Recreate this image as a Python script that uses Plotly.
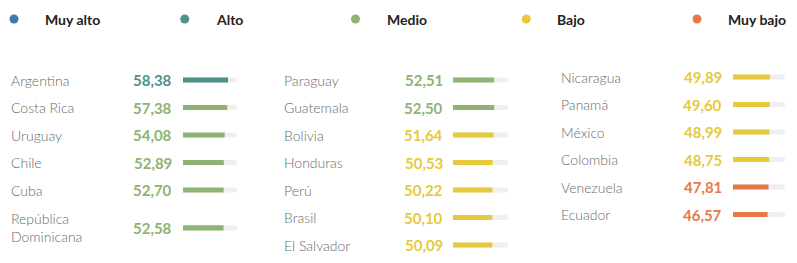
import plotly.graph_objects as go

# ---- data ----
levels = ["Muy alto", "Alto", "Medio", "Bajo", "Muy bajo"]
level_colors = ["#3b78b1", "#4e928b", "#8db472", "#e6c93c", "#e8784a"]

col1_names = ["Argentina", "Costa Rica", "Uruguay", "Chile", "Cuba", "República<br>Dominicana"]
col1_values = [58.38, 57.38, 54.08, 52.89, 52.70, 52.58]
col1_levels = ["Alto", "Medio", "Medio", "Medio", "Medio", "Medio"]

col2_names = ["Paraguay", "Guatemala", "Bolivia", "Honduras", "Perú", "Brasil", "El Salvador"]
col2_values = [52.51, 52.50, 51.64, 50.53, 50.22, 50.10, 50.09]
col2_levels = ["Medio", "Medio", "Bajo", "Bajo", "Bajo", "Bajo", "Bajo"]

col3_names = ["Nicaragua", "Panamá", "México", "Colombia", "Venezuela", "Ecuador"]
col3_values = [49.89, 49.60, 48.99, 48.75, 47.81, 46.57]
col3_levels = ["Bajo", "Bajo", "Bajo", "Bajo", "Muy bajo", "Muy bajo"]

scale_max = 70

# ---- layout constants ----
W, H = 797, 263
row_px = 27.5
cmap = dict(zip(levels, level_colors))

columns = [
    dict(names=col1_names, values=col1_values, lv=col1_levels,
         name_x=9, val_x=174, bar0=183, bar1=237, first_row=80),
    dict(names=col2_names, values=col2_values, lv=col2_levels,
         name_x=282, val_x=445, bar0=453, bar1=508, first_row=80),
    dict(names=col3_names, values=col3_values, lv=col3_levels,
         name_x=559, val_x=724, bar0=733, bar1=785, first_row=77),
]

fig = go.Figure()
annotations = []

for i, c in enumerate(columns):
    ax = "" if i == 0 else str(i + 1)
    ys = []
    pos = 0.0
    prev_h = 1.0
    for k, n in enumerate(c["names"]):
        h = 1.0 + 0.76 * n.count("<br>")
        if k > 0:
            pos += prev_h / 2 + h / 2
        ys.append(pos)
        prev_h = h
    y_top = -c["first_row"] / row_px
    y_bot = (H - c["first_row"]) / row_px
    fig.add_trace(go.Bar(
        x=[scale_max] * len(c["values"]), y=ys, orientation="h",
        marker=dict(color="#efefef", cornerradius=3, line=dict(width=0)),
        width=0.19, xaxis="x" + ax, yaxis="y" + ax,
        showlegend=False, hoverinfo="skip"))
    fig.add_trace(go.Bar(
        x=c["values"], y=ys, orientation="h",
        marker=dict(color=[cmap[l] for l in c["lv"]], cornerradius=3, line=dict(width=0)),
        width=0.19, xaxis="x" + ax, yaxis="y" + ax,
        showlegend=False, hoverinfo="skip"))
    fig.update_layout(**{
        "xaxis" + ax: dict(domain=[c["bar0"] / W, c["bar1"] / W], range=[0, scale_max],
                           visible=False, fixedrange=True),
        "yaxis" + ax: dict(domain=[0, 1], range=[y_bot, y_top], visible=False,
                           fixedrange=True, anchor="x" + ax),
    })
    for n, v, l, y in zip(c["names"], c["values"], c["lv"], ys):
        annotations.append(dict(
            x=c["name_x"] / W, xref="paper", y=y, yref="y" + ax, text=n,
            xanchor="left", yanchor="middle", showarrow=False, align="left",
            font=dict(family="Lato", size=14, color="#6a6a6a", weight=300)))
        annotations.append(dict(
            x=c["val_x"] / W, xref="paper", y=y, yref="y" + ax,
            text=f"{v:.2f}".replace(".", ","),
            xanchor="right", yanchor="middle", showarrow=False,
            font=dict(family="Lato", size=15, color=cmap[l], weight=700)))

# legend row: dots on their own axis, labels beside them
leg_step = 170.75
leg_x0 = 14
fig.add_trace(go.Scatter(
    x=levels, y=[0] * len(levels), mode="markers",
    marker=dict(color=level_colors, size=9, line=dict(width=0)),
    xaxis="x4", yaxis="y4", showlegend=False, hoverinfo="skip"))
for name in levels:
    annotations.append(dict(
        x=name, xref="x4", y=0, yref="y4", text=name, xshift=29,
        xanchor="left", yanchor="middle", showarrow=False,
        font=dict(family="Lato", size=14, color="#222222", weight=700)))
fig.update_layout(
    xaxis4=dict(domain=[0, 1], type="category",
                range=[-leg_x0 / leg_step, (W - leg_x0) / leg_step],
                visible=False, fixedrange=True, anchor="y4"),
    yaxis4=dict(domain=[1 - 38 / H, 1], range=[-1, 1], visible=False,
                fixedrange=True, anchor="x4"),
)

fig.update_layout(
    width=W, height=H, margin=dict(l=0, r=0, t=0, b=0),
    paper_bgcolor="white", plot_bgcolor="rgba(0,0,0,0)",
    barmode="overlay", annotations=annotations, showlegend=False,
)

fig.write_html("out.html")
